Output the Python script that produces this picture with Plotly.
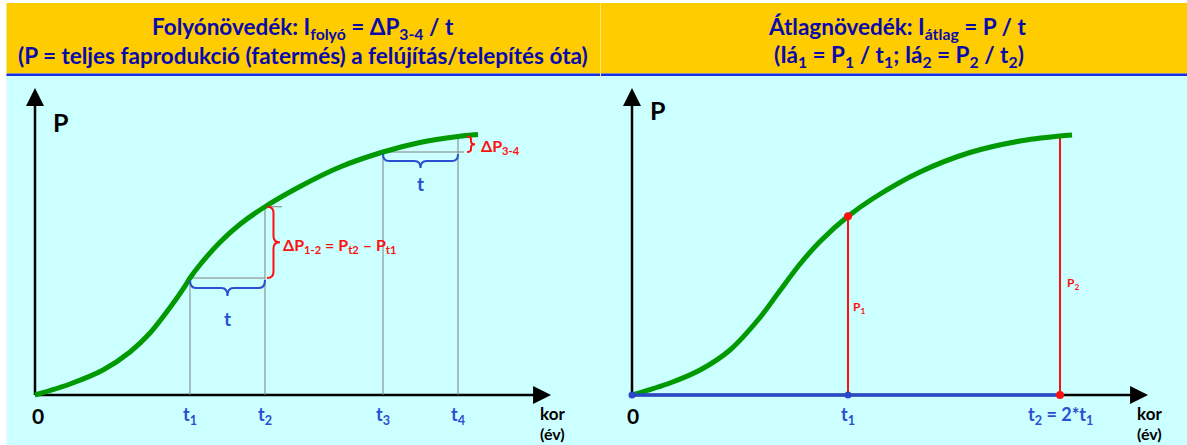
import plotly.graph_objects as go

W, H = 1187, 445
PXX, PXY = 5.13, 3.07  # pixels per data unit (x, y)

# ---------------- data ----------------
# left chart: total production P vs age
left_age = [0, 6.82, 13.26, 18.52, 22.42, 26.32, 29.24, 30.21, 32.16, 36.06, 39.96, 44.83,
            51.66, 59.45, 67.84, 75.05, 82.46, 86.35]
left_prod = [0, 3.58, 8.14, 14.01, 20.20, 28.50, 35.50, 38.11, 42.43, 49.76, 55.62, 61.32,
             67.92, 74.27, 79.15, 82.25, 84.20, 84.85]
left_t = [30.21, 44.83, 67.84, 82.46]
left_P = [38.11, 61.32, 79.15, 84.20]
left_tick_labels = ["t<sub>1</sub>", "t<sub>2</sub>", "t<sub>3</sub>", "t<sub>4</sub>"]

# right chart
right_age = [0, 7.41, 13.45, 19.10, 24.95, 28.85, 32.75, 36.65, 42.11, 46.98, 56.14, 65.89,
             75.63, 83.43, 85.77]
right_prod = [0, 3.91, 8.31, 14.66, 25.24, 34.04, 42.67, 50.00, 58.21, 64.01, 72.64, 78.99,
              82.74, 84.36, 84.69]
right_t = [42.11, 83.43]
right_P = [58.21, 84.36]
right_tick_labels = ["t<sub>1</sub>", "t<sub>2</sub> = 2*t<sub>1</sub>"]

AXIS_X_END = 100.6
AXIS_Y_END = 100.0

GREEN = "#009900"
RED = "#FF1010"
BLUE = "#2A50D0"
DARKBLUE = "#0A0AAA"
GRAY = "#808080"
CYAN = "#CCFFFF"
YELLOW = "#FFCC00"
FONT = "Lato"

fig = go.Figure()

# curves
fig.add_trace(go.Scatter(x=left_age, y=left_prod, mode="lines",
                         line=dict(color=GREEN, width=5, shape="spline", smoothing=0.8),
                         xaxis="x", yaxis="y", hoverinfo="skip"))
fig.add_trace(go.Scatter(x=right_age, y=right_prod, mode="lines",
                         line=dict(color=GREEN, width=5, shape="spline", smoothing=0.8),
                         xaxis="x2", yaxis="y2", hoverinfo="skip"))

shapes = []
ann = []


def line(x0, y0, x1, y1, color, width, xr="x", yr="y", layer="below"):
    shapes.append(dict(type="line", x0=x0, y0=y0, x1=x1, y1=y1, xref=xr, yref=yr,
                       line=dict(color=color, width=width), layer=layer))


def hbrace(x0, x1, ytop, depth_px, color, xr="x", yr="y"):
    d = depth_px / PXY
    h = d / 2
    r = 6 / PXX
    xm = (x0 + x1) / 2
    p = (f"M {x0},{ytop} Q {x0},{ytop-h} {x0+r},{ytop-h} L {xm-r},{ytop-h} "
         f"Q {xm},{ytop-h} {xm},{ytop-d} Q {xm},{ytop-h} {xm+r},{ytop-h} "
         f"L {x1-r},{ytop-h} Q {x1},{ytop-h} {x1},{ytop}")
    shapes.append(dict(type="path", path=p, xref=xr, yref=yr,
                       line=dict(color=color, width=2), layer="above"))


def vbrace(xleft, y0, y1, depth_px, color, xr="x", yr="y", rpx=6):
    d = depth_px / PXX
    h = d / 2
    r = rpx / PXY
    ym = (y0 + y1) / 2
    p = (f"M {xleft},{y0} Q {xleft+h},{y0} {xleft+h},{y0-r} L {xleft+h},{ym+r} "
         f"Q {xleft+h},{ym} {xleft+d},{ym} Q {xleft+h},{ym} {xleft+h},{ym-r} "
         f"L {xleft+h},{y1+r} Q {xleft+h},{y1} {xleft},{y1}")
    shapes.append(dict(type="path", path=p, xref=xr, yref=yr,
                       line=dict(color=color, width=2), layer="above"))


def arrowhead(x0, y0, x1, y1, xr, yr):
    ann.append(dict(x=x1, y=y1, ax=x0, ay=y0, xref=xr, yref=yr, axref=xr, ayref=yr,
                    text="", showarrow=True, arrowhead=2, arrowsize=1.5, arrowwidth=2.4,
                    arrowcolor="black"))


def text(x, y, s, size, color, xr="x", yr="y", xanchor="center", yanchor="middle", xshift=0, yshift=0):
    ann.append(dict(x=x, y=y, xref=xr, yref=yr, text=s, showarrow=False,
                    font=dict(family=FONT, size=size, color=color),
                    xanchor=xanchor, yanchor=yanchor, xshift=xshift, yshift=yshift))


# ---------- background / header ----------
shapes.append(dict(type="rect", xref="paper", yref="paper", x0=0, x1=6.5 / W, y0=0, y1=1,
                   fillcolor="white", line=dict(width=0), layer="below"))
shapes.append(dict(type="rect", xref="paper", yref="paper", x0=0, x1=1, y0=1 - 3 / H, y1=1,
                   fillcolor="white", line=dict(width=0), layer="below"))
shapes.append(dict(type="rect", xref="paper", yref="paper", x0=6.5 / W, x1=1, y0=1 - 73.5 / H, y1=1 - 3 / H,
                   fillcolor=YELLOW, line=dict(width=0), layer="below"))
shapes.append(dict(type="rect", xref="paper", yref="paper", x0=6.5 / W, x1=1, y0=1 - 76 / H, y1=1 - 73.5 / H,
                   fillcolor="#1A2FE0", line=dict(width=0), layer="below"))
shapes.append(dict(type="line", xref="paper", yref="paper", x0=600.5 / W, x1=600.5 / W, y0=1 - 76 / H, y1=1 - 3 / H,
                   line=dict(color="#FFE27A", width=1), layer="below"))

hdr_font = dict(family=FONT, size=22.5, color=DARKBLUE)
ann.append(dict(x=303.5 / W, y=1 - 28 / H, xref="paper", yref="paper", showarrow=False,
                text="<b>Folyónövedék: I<sub>folyó</sub> = ΔP<sub>3-4</sub> / t</b>", font=hdr_font,
                xanchor="center", yanchor="middle"))
ann.append(dict(x=303.5 / W, y=1 - 56 / H, xref="paper", yref="paper", showarrow=False,
                text="<b>(P = teljes faprodukció (fatermés) a felújítás/telepítés óta)</b>", font=hdr_font,
                xanchor="center", yanchor="middle"))
ann.append(dict(x=897 / W, y=1 - 28 / H, xref="paper", yref="paper", showarrow=False,
                text="<b>Átlagnövedék: I<sub>átlag</sub> = P / t</b>", font=hdr_font,
                xanchor="center", yanchor="middle"))
ann.append(dict(x=899 / W, y=1 - 56 / H, xref="paper", yref="paper", showarrow=False,
                text="<b>(Iá<sub>1</sub> = P<sub>1</sub> / t<sub>1</sub>; Iá<sub>2</sub> = P<sub>2</sub> / t<sub>2</sub>)</b>",
                font=hdr_font, xanchor="center", yanchor="middle"))

# ---------- axes (both panels) ----------
for xr, yr in (("x", "y"), ("x2", "y2")):
    line(0, 0, AXIS_X_END - 1.5, 0, "black", 2.5, xr, yr)
    line(0, 0, 0, AXIS_Y_END - 3, "black", 2.5, xr, yr)
    arrowhead(AXIS_X_END - 3, 0, AXIS_X_END, 0, xr, yr)
    arrowhead(0, AXIS_Y_END - 5, 0, AXIS_Y_END, xr, yr)

# ---------- left panel annotations ----------
t1, t2, t3, t4 = left_t
P1, P2, P3, P4 = left_P
line(t1, 0, t1, P1, GRAY, 1)
line(t1, P1, t2, P1, GRAY, 1)
line(t2, 0, t2, P2, GRAY, 1)
line(t2, P2, t2 + 17 / PXX, P2, GRAY, 1)
line(t3, 0, t3, P3, GRAY, 1)
line(t3, P3, t4 + 6 / PXX, P3, GRAY, 1)
line(t4, 0, t4, P4, GRAY, 1)
line(t4, P4, t4 + 11 / PXX, P4, GRAY, 1)

hbrace(t1, t2, P1 - 2 / PXY, 16, BLUE)
hbrace(t3, t4, P3 - 2 / PXY, 14, BLUE)
vbrace(t2 + 2 / PXX, P2, P1, 13, RED)
vbrace(t4 + 9 / PXX, P4, P3, 8, RED, rpx=3)

text((t1 + t2) / 2, P1 - 40 / PXY, "<b>t</b>", 19, BLUE)
text((t3 + t4) / 2, P3 - 31 / PXY, "<b>t</b>", 19, BLUE)
text(t2 + 16 / PXX, (P1 + P2) / 2, "<b>ΔP<sub>1-2</sub> = P<sub>t2</sub> – P<sub>t1</sub></b>", 16, RED,
     xanchor="left", yshift=-3)
text(t4 + 21 / PXX, (P3 + P4) / 2, "<b>ΔP<sub>3-4</sub></b>", 16, RED, xanchor="left", yshift=-2)

for tv, lab in zip(left_t, left_tick_labels):
    text(tv, -18 / PXY, "<b>" + lab + "</b>", 18, BLUE, yshift=-2)

text(0, -20 / PXY, "<b>0</b>", 21, "black", xshift=3)
text(25 / PXX, 273 / PXY, "<b>P</b>", 25, "black")
text(AXIS_X_END + 0.2, -18 / PXY, "<b>kor</b>", 17, "black")
text(AXIS_X_END + 0.2, -38.5 / PXY, "<b>(év)</b>", 16, "black")

# ---------- right panel ----------
r1, r2 = right_t
Q1, Q2 = right_P
line(r1, 0, r1, Q1, RED, 2, "x2", "y2")
line(r2, 0, r2, Q2, RED, 2, "x2", "y2")
fig.add_trace(go.Scatter(x=[0, r2], y=[0, 0], mode="lines", line=dict(color="#2A48C8", width=3.5),
                         xaxis="x2", yaxis="y2", hoverinfo="skip"))
fig.add_trace(go.Scatter(x=[0, r1], y=[0, 0], mode="markers", marker=dict(color="#2A48C8", size=7),
                         xaxis="x2", yaxis="y2", hoverinfo="skip"))
fig.add_trace(go.Scatter(x=[r2, r1], y=[0, Q1], mode="markers", marker=dict(color=RED, size=8),
                         xaxis="x2", yaxis="y2", hoverinfo="skip"))

text(r1, 88 / PXY, "<b>P<sub>1</sub></b>", 12, RED, "x2", "y2", xanchor="left", xshift=3)
text(r2, 112 / PXY, "<b>P<sub>2</sub></b>", 12, RED, "x2", "y2", xanchor="left", xshift=5)
text(r1, -18 / PXY, "<b>" + right_tick_labels[0] + "</b>", 18, BLUE, "x2", "y2", yshift=-2)
text(r2, -18 / PXY, "<b>" + right_tick_labels[1] + "</b>", 18, BLUE, "x2", "y2", yshift=-2)
text(0, -20 / PXY, "<b>0</b>", 21, "black", "x2", "y2", xshift=1)
text(26 / PXX, 285 / PXY, "<b>P</b>", 25, "black", "x2", "y2")
text(AXIS_X_END + 0.3, -18 / PXY, "<b>kor</b>", 17, "black", "x2", "y2")
text(AXIS_X_END + 0.3, -38.5 / PXY, "<b>(év)</b>", 16, "black", "x2", "y2")

fig.update_layout(
    width=W, height=H, autosize=False,
    margin=dict(l=0, r=0, t=0, b=0),
    paper_bgcolor=CYAN, plot_bgcolor="rgba(0,0,0,0)",
    showlegend=False,
    shapes=shapes, annotations=ann,
    xaxis=dict(domain=[0, 600 / W], range=[-35 / PXX, (600 - 35) / PXX], visible=False, fixedrange=True),
    yaxis=dict(domain=[0, 1], range=[-(H - 395) / PXY, 395 / PXY], visible=False, fixedrange=True),
    xaxis2=dict(domain=[601 / W, 1], range=[-(632 - 601) / PXX, (W - 632) / PXX], visible=False,
                fixedrange=True, anchor="y2"),
    yaxis2=dict(domain=[0, 1], range=[-(H - 395) / PXY, 395 / PXY], visible=False, fixedrange=True,
                anchor="x2"),
)

fig.write_html("out.html", config={"displayModeBar": False},
               post_script="document.body.style.margin='0';document.body.style.padding='0';"
                           "document.body.style.overflow='hidden';")
